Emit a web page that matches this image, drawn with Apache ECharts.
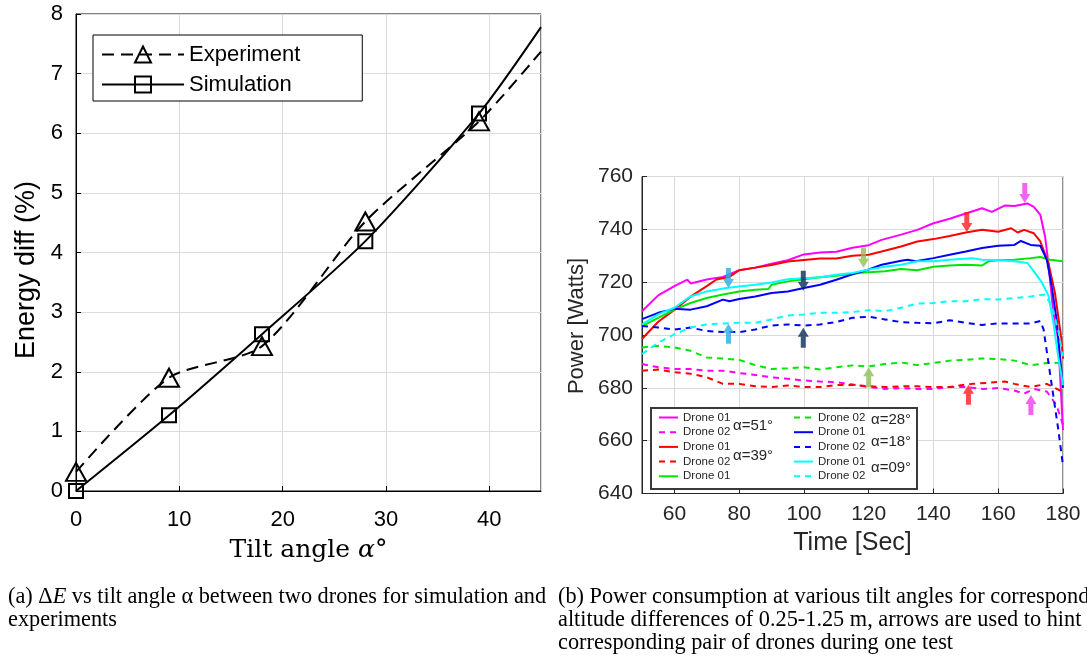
<!DOCTYPE html>
<html>
<head>
<meta charset="utf-8">
<script src="https://cdn.jsdelivr.net/npm/echarts@6/dist/echarts.min.js"></script>
<style>
  html, body { margin: 0; padding: 0; background: #fff; }
  #main { width: 1087px; height: 663px; }
</style>
</head>
<body>
<div id="main"></div>
<script>
// (a) energy difference vs tilt angle
var tiltAngle = [0, 9, 18, 28, 39, 45];
var expDiff = [0.32, 1.9, 2.43, 4.52, 6.2, 7.37];
var simDiff = [0, 1.27, 2.63, 4.19, 6.33, 7.78];

// (b) power vs time, [sec, watts]
var d51a = [[50,709],[55,715],[60,718.5],[64,721],[65,719.5],[70,721],[75,722],[80,724.5],[85,725.5],[90,727],[95,728.3],[100,730.5],[105,731.2],[110,731.5],[115,733],[120,734],[124,736],[130,738],[135,739.8],[140,742.3],[145,744],[150,746],[155,748],[158,746.6],[162,749],[165,748.8],[169,749.8],[171,748.5],[173,745.5],[174.5,737],[175.5,727],[177,708.5],[178.5,698.5],[180,664]];
var d51b = [[50,689],[55,687.8],[60,687.1],[65,687.1],[70,686.5],[75,686.5],[80,685.6],[85,684.9],[90,684],[95,683.4],[100,682.8],[105,682.4],[110,682.1],[115,681.3],[120,680.3],[125,679.6],[130,679.9],[135,679.6],[140,679.6],[145,680.3],[150,680.3],[155,679.6],[160,679.9],[165,679],[168,677.8],[171,679.6],[175,678.6],[178,673.4],[180,666]];
var d39a = [[50,698.5],[55,705],[60,709.5],[65,714.5],[70,718.5],[73,721],[77,722],[80,724.5],[85,725.5],[90,726.5],[95,727.8],[100,728.4],[105,729],[110,729],[115,730],[120,730.4],[124,731.6],[130,733.5],[135,735.4],[140,736.3],[145,737.5],[150,738.8],[155,739.8],[160,739.1],[164,740.4],[166,738.8],[168,739.8],[171,738.5],[173,735.4],[175.5,727.3],[177.5,716],[179.5,698.5],[180,691]];
var d39b = [[50,686.5],[55,686.9],[60,685.9],[65,685.3],[70,684],[75,681.5],[80,681.5],[85,680.6],[90,680.3],[95,680.9],[100,680.3],[105,680.3],[110,681.1],[115,681.1],[120,680.6],[125,680.3],[130,680.6],[135,680.6],[140,680.3],[145,680.3],[148,680.9],[152,681.5],[157,681.9],[162,682.4],[165,681.5],[170,680.3],[175,681.5],[180,678.4]];
var d28a = [[50,703.4],[55,706.5],[60,709.6],[65,712.1],[70,714],[75,715.3],[80,716.5],[85,717.1],[89,717.4],[90,719],[95,720.3],[100,721.1],[105,721.9],[110,722.4],[115,723.2],[120,723.8],[125,724.1],[130,725],[135,724.5],[140,725.8],[145,726.3],[150,726.6],[155,726.3],[157,727.9],[160,728.3],[165,728.5],[170,729.1],[173,729.5],[176,728.5],[180,727.9]];
var d28b = [[50,695.3],[55,695.9],[60,695.3],[65,694],[70,691.5],[75,691.1],[80,690.6],[85,688.6],[90,687.1],[95,687.4],[100,687.8],[105,686.9],[110,687.8],[115,688.5],[120,688.1],[125,689],[130,689.6],[135,688.6],[140,689.4],[145,690.3],[150,690.6],[155,691.1],[160,690.9],[165,690.3],[170,688.6],[173,689],[176,689.6],[180,689.4]];
var d18a = [[50,706],[55,708.4],[60,709.9],[65,709.6],[70,710.9],[75,713.4],[77,712.8],[80,713.6],[85,714.6],[90,715.9],[95,716.5],[100,717.8],[105,719],[110,720.9],[115,723],[120,724.8],[124,726.6],[130,728.1],[132,728.5],[134.5,727.9],[140,729.1],[145,730.4],[150,731.6],[155,732.9],[160,733.8],[165,734.1],[167,735.6],[170,734.1],[173,733.8],[175,728.5],[176.5,718.5],[178,706],[180,680]];
var d18b = [[50,703.4],[55,702.8],[60,702.1],[65,702.8],[70,701.5],[75,701.1],[80,701.1],[85,702.1],[90,703.6],[95,704],[100,703.6],[105,704],[110,704.9],[115,706.5],[120,706.9],[125,705.9],[130,704.9],[135,704.6],[140,704.4],[145,705.6],[150,704.6],[155,703.8],[160,704.4],[165,704.4],[170,704.4],[173,705.3],[174,702.1],[175.5,689.6],[177,677.1],[178.5,664.6],[180,650.5]];
var d09a = [[50,704],[55,707.8],[60,710.3],[65,714.6],[70,716.5],[76,717.8],[80,718.4],[85,719],[90,719.9],[95,721.1],[100,721.5],[105,721.9],[110,722.8],[115,723.5],[120,724.8],[125,725.8],[130,726.6],[135,727.9],[140,727.9],[145,728.5],[152,729.1],[155,728.5],[160,728.3],[165,727.9],[169,727.3],[171,724.1],[173.5,719.8],[175.5,715],[177,705],[178.5,692],[180,681]];
var d09b = [[50,692.8],[55,697.1],[60,700.3],[65,702.8],[70,704],[75,704.4],[80,704.6],[85,704.6],[90,705.9],[95,707.4],[100,707.8],[105,708.4],[110,708.4],[115,708.7],[120,709.4],[125,709],[130,710.3],[135,711.9],[140,712.1],[145,712.8],[150,712.8],[155,713.6],[160,713.4],[165,714],[170,714.6],[174.5,715.3],[176.5,710.9],[178.5,702],[180,692]];

// hint arrows: [sec, watts]
var arrowsDown = [[76.7,721.6],[99.8,720.5],[118.4,729.2],[150.3,742.8],[168.2,753.8]];
var arrowsUp = [[76.7,700.5],[99.8,699],[120,684],[150.8,677.4],[170.1,673.5]];
var arrowColors = ['#29abe2', '#0d2d5a', '#8dc153', '#ff1a1a', '#f03cf0'];

var timeTicks = [60, 80, 100, 120, 140, 160, 180];

var sans = 'Liberation Sans';
var serif = 'Liberation Serif';
var dash = [6, 5];

function pairs(xs, ys) {
  return xs.map(function (x, i) {
    var item = { value: [x, ys[i]] };
    if (i === xs.length - 1) item.symbol = 'none';
    return item;
  });
}

function power(name, data, color, dashed) {
  return {
    name: name, type: 'line', xAxisIndex: 1, yAxisIndex: 1,
    data: data, symbol: 'none', smooth: false,
    itemStyle: { color: color },
    lineStyle: { color: color, width: 2, type: dashed ? dash : 'solid' }
  };
}

function arrowData(pts, rotate) {
  return pts.map(function (p, i) {
    return { value: p, symbolRotate: rotate, itemStyle: { color: arrowColors[i] } };
  });
}

function ticks(color, values) {
  var t = { show: true, inside: true, length: 5, lineStyle: { color: color } };
  if (values) t.customValues = values;
  return t;
}

var drones = [
  power('Drone 01 α=51°', d51a, '#ff00ff', false),
  power('Drone 02 α=51°', d51b, '#ff00ff', true),
  power('Drone 01 α=39°', d39a, '#ff0000', false),
  power('Drone 02 α=39°', d39b, '#ff0000', true),
  power('Drone 01 α=28°', d28a, '#00e600', false),
  power('Drone 02 α=28°', d28b, '#00e600', true),
  power('Drone 01 α=18°', d18a, '#0000ff', false),
  power('Drone 02 α=18°', d18b, '#0000ff', true),
  power('Drone 01 α=09°', d09a, '#00ffff', false),
  power('Drone 02 α=09°', d09b, '#00ffff', true)
];
var droneNames = drones.map(function (s) { return s.name; });

var arrowPath = 'path://M3,0L8,0L8,11L11,11L5.5,20L0,11L3,11Z';

var myChart = echarts.init(document.getElementById('main'));

function droneLegend(names, left) {
  return {
    data: names, orient: 'vertical', left: left, top: 411, z: 20,
    padding: 0, itemWidth: 19, itemHeight: 10, itemGap: 1.7,
    itemStyle: { color: 'rgba(0,0,0,0)', borderWidth: 0 },
    formatter: function (n) { return n.slice(0, 8); },
    textStyle: { fontFamily: sans, fontSize: 11.5, color: '#262626', lineHeight: 13 }
  };
}

var option = {
  backgroundColor: '#fff',
  animation: false,
  grid: [
    { left: 76, top: 14, width: 465, height: 477, show: true, borderColor: '#000', borderWidth: 1 },
    { left: 642, top: 176.5, right: 24, bottom: 169.5, show: true, borderColor: '#262626', borderWidth: 1 }
  ],
  xAxis: [
    {
      gridIndex: 0, type: 'value', min: 0, max: 45, interval: 10,
      name: 'Tilt angle {a|α}°', nameLocation: 'middle', nameGap: 47,
      nameTextStyle: {
        fontFamily: 'DejaVu Serif', fontSize: 25, color: '#000',
        rich: { a: { fontFamily: 'DejaVu Serif', fontStyle: 'italic', fontSize: 25, color: '#000' } }
      },
      axisLine: { lineStyle: { color: '#000', width: 1 } },
      axisTick: ticks('#000'),
      axisLabel: { fontFamily: sans, fontSize: 22, color: '#000', margin: 18, showMaxLabel: false },
      splitLine: { show: true, lineStyle: { color: '#dcdcdc' } }
    },
    {
      gridIndex: 1, type: 'value', min: 50, max: 180,
      name: 'Time [Sec]', nameLocation: 'middle', nameGap: 37,
      nameTextStyle: { fontFamily: sans, fontSize: 25, color: '#262626' },
      axisLine: { lineStyle: { color: '#262626', width: 1 } },
      axisTick: ticks('#262626', timeTicks),
      axisLabel: { fontFamily: sans, fontSize: 21, color: '#262626', margin: 10, customValues: timeTicks },
      splitLine: { show: true, lineStyle: { color: '#d9d9d9' } }
    }
  ],
  yAxis: [
    {
      gridIndex: 0, type: 'value', min: 0, max: 8, interval: 1,
      axisLine: { show: true, lineStyle: { color: '#000', width: 1 } },
      axisTick: ticks('#000'),
      axisLabel: { fontFamily: sans, fontSize: 22, color: '#000', margin: 13 },
      splitLine: { show: true, lineStyle: { color: '#dcdcdc' } }
    },
    {
      gridIndex: 1, type: 'value', min: 640, max: 760, interval: 20,
      axisLine: { show: true, lineStyle: { color: '#262626', width: 1 } },
      axisTick: ticks('#262626'),
      axisLabel: { fontFamily: sans, fontSize: 21, color: '#262626', margin: 9 },
      splitLine: { show: true, lineStyle: { color: '#d9d9d9' } }
    }
  ],
  legend: [
    {
      data: ['Experiment', 'Simulation'], orient: 'vertical', left: 93, top: 35, z: 20,
      padding: [8, 62, 5, 8], itemWidth: 82, itemHeight: 20, itemGap: 7,
      backgroundColor: '#fff', borderColor: '#000', borderWidth: 1,
      textStyle: { fontFamily: sans, fontSize: 22, color: '#000', lineHeight: 23 }
    },
    droneLegend(droneNames.slice(0, 5), 658),
    droneLegend(droneNames.slice(5), 793)
  ],
  graphic: [
    { type: 'rect', z: 10, shape: { x: 651, y: 408, width: 266, height: 81 },
      style: { fill: '#fff', stroke: '#3a3a3a', lineWidth: 2 } },
    { type: 'text', z: 21, x: 733, y: 426, style: { text: 'α=51°', font: '15px "Liberation Sans"', fill: '#262626', verticalAlign: 'middle' } },
    { type: 'text', z: 21, x: 733, y: 456, style: { text: 'α=39°', font: '15px "Liberation Sans"', fill: '#262626', verticalAlign: 'middle' } },
    { type: 'text', z: 21, x: 871, y: 420, style: { text: 'α=28°', font: '15px "Liberation Sans"', fill: '#262626', verticalAlign: 'middle' } },
    { type: 'text', z: 21, x: 871, y: 442, style: { text: 'α=18°', font: '15px "Liberation Sans"', fill: '#262626', verticalAlign: 'middle' } },
    { type: 'text', z: 21, x: 871, y: 468, style: { text: 'α=09°', font: '15px "Liberation Sans"', fill: '#262626', verticalAlign: 'middle' } },
    { type: 'text', x: 27, y: 270, rotation: Math.PI / 2,
      style: { text: 'Energy diff (%)', font: '27px "Liberation Sans"', fill: '#000', align: 'center', verticalAlign: 'middle' } },
    { type: 'text', x: 577, y: 326, rotation: Math.PI / 2,
      style: { text: 'Power [Watts]', font: '22px "Liberation Sans"', fill: '#262626', align: 'center', verticalAlign: 'middle' } },
    { type: 'text', x: 8, y: 597,
      style: { text: '(a) Δ{i|E} vs tilt angle α between two drones for simulation and', font: '22.3px "Liberation Serif"', fill: '#000', verticalAlign: 'middle',
        rich: { i: { fontFamily: serif, fontStyle: 'italic', fontSize: 22.3, fill: '#000' } } } },
    { type: 'text', x: 8, y: 620,
      style: { text: 'experiments', font: '22.3px "Liberation Serif"', fill: '#000', verticalAlign: 'middle' } },
    { type: 'text', x: 558, y: 597,
      style: { text: '(b) Power consumption at various tilt angles for corresponding', font: '22.3px "Liberation Serif"', fill: '#000', verticalAlign: 'middle' } },
    { type: 'text', x: 558, y: 620,
      style: { text: 'altitude differences of 0.25-1.25 m, arrows are used to hint the', font: '22.3px "Liberation Serif"', fill: '#000', verticalAlign: 'middle' } },
    { type: 'text', x: 558, y: 643,
      style: { text: 'corresponding pair of drones during one test', font: '22.3px "Liberation Serif"', fill: '#000', verticalAlign: 'middle' } }
  ],
  series: [
    {
      name: 'Experiment', type: 'line', xAxisIndex: 0, yAxisIndex: 0,
      data: pairs(tiltAngle, expDiff), smooth: 0.25,
      symbol: 'triangle', symbolSize: [20, 18], showAllSymbol: true,
      itemStyle: { color: 'rgba(0,0,0,0)', borderColor: '#000', borderWidth: 2 },
      lineStyle: { color: '#000', width: 2, type: [12, 7] }
    },
    {
      name: 'Simulation', type: 'line', xAxisIndex: 0, yAxisIndex: 0,
      data: pairs(tiltAngle, simDiff), smooth: 0.25,
      symbol: 'rect', symbolSize: 14, showAllSymbol: true,
      itemStyle: { color: 'rgba(0,0,0,0)', borderColor: '#000', borderWidth: 2 },
      lineStyle: { color: '#000', width: 2, type: 'solid' }
    }
  ].concat(drones).concat([
    {
      type: 'scatter', xAxisIndex: 1, yAxisIndex: 1, z: 5,
      symbol: arrowPath, symbolSize: [11, 20],
      data: arrowData(arrowsDown, 0)
    },
    {
      type: 'scatter', xAxisIndex: 1, yAxisIndex: 1, z: 5,
      symbol: arrowPath, symbolSize: [11, 20],
      data: arrowData(arrowsUp, 180)
    }
  ])
};

myChart.setOption(option);
</script>
</body>
</html>
